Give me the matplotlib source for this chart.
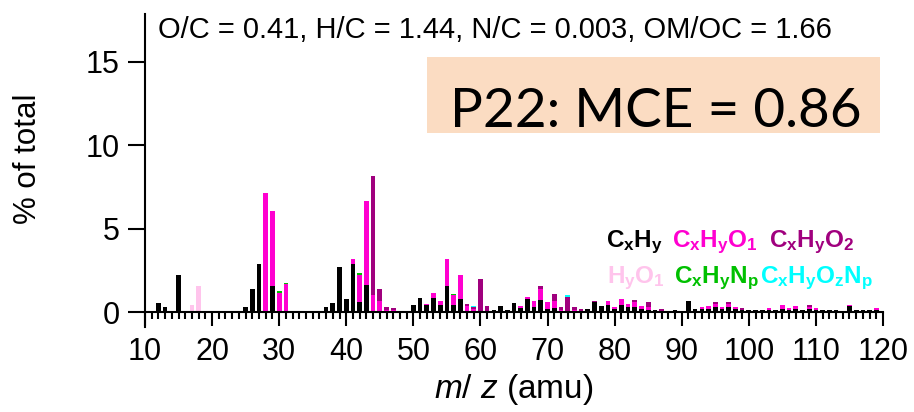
import numpy as np
import matplotlib
matplotlib.use('Agg')
import matplotlib.pyplot as plt
from matplotlib.patches import Rectangle
from matplotlib.ticker import MultipleLocator

plt.rcParams['font.family'] = ['Liberation Sans', 'DejaVu Sans']
plt.rcParams['mathtext.fontset'] = 'custom'
plt.rcParams['mathtext.rm'] = 'Liberation Sans'
plt.rcParams['mathtext.it'] = 'Liberation Sans:italic'
plt.rcParams['mathtext.bf'] = 'Liberation Sans:bold'

mz = np.arange(10, 121)

# CxHy, one value per m/z from 10 to 120
cxhy = [0, 0, 0.56, 0.28, 0.06, 2.22, 0, 0, 0, 0.02,
        0.02, 0.02, 0.02, 0.03, 0.04, 0.28, 1.36, 2.85, 0, 1.54,
        0, 0, 0.03, 0.03, 0.03, 0.03, 0.05, 0.28, 0.52, 2.68,
        0.76, 2.88, 0.6, 1.6, 0, 0, 0, 0, 0.03, 0.05,
        0.44, 0.82, 0.44, 0.84, 0.4, 1.54, 0.4, 0.8, 0, 0,
        0, 0, 0.1, 0.38, 0.14, 0.56, 0.24, 0.76, 0.28, 0.72,
        0.2, 0.25, 0.05, 0, 0, 0.08, 0.16, 0.58, 0.36, 0.44,
        0.16, 0.42, 0.3, 0.3, 0.2, 0.15, 0.12, 0.05, 0.05, 0.12,
        0.06, 0.68, 0.2, 0.2, 0.16, 0.3, 0.16, 0.3, 0.16, 0.12,
        0.12, 0.1, 0.14, 0.14, 0.14, 0.2, 0.1, 0.16, 0.12, 0.2,
        0.1, 0.14, 0.1, 0.1, 0.08, 0.34, 0.1, 0.1, 0.12, 0.1,
        0.08]

# other families, only the m/z where they show up
o1_mz = [28, 29, 30, 31, 41, 42, 43, 44, 45, 46, 47, 52, 53, 54, 55, 56, 57, 58,
         59, 60, 66, 67, 68, 69, 70, 71, 72, 74, 79, 80, 81, 82, 83, 84, 85, 93,
         94, 95, 96, 97, 98, 103, 105, 106, 107, 109, 110, 115, 119]
o1_val = [7.13, 4.5, 1.14, 1.66, 0.32, 1.64, 5.05, 1.04, 0.68, 0.12, 0.1, 0.04, 0.3,
          0.28, 1.66, 0.6, 1.4, 0.35, 0.2, 0.05, 0.1, 0.14, 0.4, 0.68, 0.4, 0.4,
          0.07, 0.12, 0.24, 0.12, 0.38, 0.18, 0.28, 0.14, 0.15, 0.12, 0.2, 0.2,
          0.12, 0.18, 0.16, 0.12, 0.22, 0.12, 0.22, 0.12, 0.12, 0.1, 0.12]

o2_mz = [44, 45, 46, 47, 58, 59, 60, 61, 69, 71, 72, 73, 74, 75, 77, 83, 85, 87,
         95, 97, 99, 109]
o2_val = [7.11, 0.68, 0.16, 0.15, 0.15, 0.1, 1.9, 0.34, 0.16, 0.4, 0.15, 0.88,
          0.2, 0.08, 0.1, 0.12, 0.3, 0.15, 0.1, 0.12, 0.12, 0.08]

hyo1_mz = [16, 17, 18]
hyo1_val = [0.05, 0.4, 1.58]

n_mz = [27, 30, 31, 42, 56]
n_val = [0.05, 0.1, 0.08, 0.1, 0.08]

on_mz = [59, 73]
on_val = [0.03, 0.12]


def full(keys, vals):
    arr = np.zeros(len(mz))
    for k, v in zip(keys, vals):
        arr[k - 10] = v
    return arr


families = [
    (np.array(cxhy), '#000000'),
    (full(o1_mz, o1_val), '#FF00D0'),
    (full(o2_mz, o2_val), '#A0007E'),
    (full(hyo1_mz, hyo1_val), '#FFC4EC'),
    (full(n_mz, n_val), '#00C000'),
    (full(on_mz, on_val), '#00FFFF'),
]

fig = plt.figure(figsize=(9.14, 4.12), dpi=100)
ax = fig.add_axes([0.1586, 0.2063, 0.8075, 0.7607])

bottom = np.zeros(len(mz))
for vals, col in families:
    ax.bar(mz, vals, width=0.7, bottom=bottom, color=col, linewidth=0)
    bottom += vals

ax.set_xlim(10, 120)
ax.set_ylim(-0.9, 17.9)

ax.spines['top'].set_visible(False)
ax.spines['right'].set_visible(False)
ax.spines['bottom'].set_position(('data', 0))
ax.spines['bottom'].set_linewidth(1.5)
ax.spines['left'].set_linewidth(1.5)

ax.xaxis.set_major_locator(MultipleLocator(10))
ax.xaxis.set_minor_locator(MultipleLocator(1))
ax.set_yticks([0, 5, 10, 15])
ax.tick_params(axis='x', which='major', direction='out', length=10, width=1.5,
               labelsize=22, pad=8)
ax.tick_params(axis='x', which='minor', direction='out', length=5, width=1.5)
ax.tick_params(axis='y', which='major', direction='out', length=12, width=1.5,
               labelsize=22, pad=6)

ax.set_ylabel('% of total', fontsize=22.5)
ax.yaxis.set_label_coords(-0.138, 0.538)
ax.set_xlabel(r'$m$/ $z$ (amu)', fontsize=24)
ax.xaxis.set_label_coords(0.5, -0.142)

ax.text(0.0176, 0.922, 'O/C = 0.41, H/C = 1.44, N/C = 0.003, OM/OC = 1.66',
        transform=ax.transAxes, fontsize=21, va='baseline', ha='left')

ax.add_patch(Rectangle((0.382, 0.619), 0.614, 0.242, transform=ax.transAxes,
                       facecolor='#FBDCC2', edgecolor='none', zorder=0))
ax.text(0.692, 0.638, 'P22: MCE = 0.86', transform=ax.transAxes,
        fontsize=39.5, family='Lato', va='baseline', ha='center')

legend_rows = [
    [(r'$\mathbf{C_xH_y}$', '#000000', 0.625), (r'$\mathbf{C_xH_yO_1}$', '#FF00D0', 0.714),
     (r'$\mathbf{C_xH_yO_2}$', '#A0007E', 0.846)],
    [(r'$\mathbf{H_yO_1}$', '#FFC4EC', 0.626), (r'$\mathbf{C_xH_yN_p}$', '#00C000', 0.717),
     (r'$\mathbf{C_xH_yO_zN_p}$', '#00FFFF', 0.834)],
]
for yy, row in zip([0.256, 0.14], legend_rows):
    for label, col, xx in row:
        ax.text(xx, yy, label, color=col, fontsize=17.5, transform=ax.transAxes,
                va='baseline', ha='left')

fig.savefig('out.png', dpi=100)
